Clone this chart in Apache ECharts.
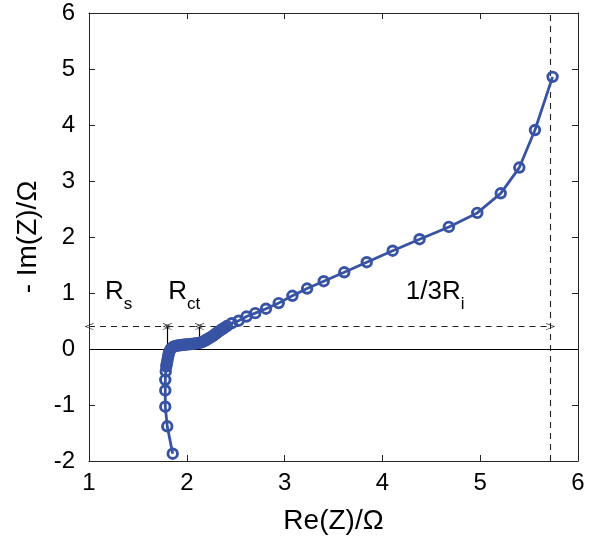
<!DOCTYPE html>
<html><head><meta charset="utf-8">
<script src="https://cdn.jsdelivr.net/npm/echarts@6/dist/echarts.min.js"></script>
<style>html,body{margin:0;padding:0;background:#fff}#c{width:589px;height:541px}</style>
</head><body><div id="c"></div>
<script>
// Impedance data (Re(Z), -Im(Z)) in Ohm
const reZ = [1.856,1.80,1.78,1.78,1.78,1.785,1.79,1.795,1.80,1.805,1.81,1.815,1.82,1.83,1.84,1.855,1.87,1.89,1.91,1.93,1.95,1.97,1.99,2.01,2.03,2.05,2.07,2.09,2.11,2.13,2.145,2.16,2.175,2.19,2.20,2.215,2.23,2.245,2.26,2.275,2.29,2.305,2.32,2.34,2.36,2.38,2.41,2.46,2.53,2.61,2.70,2.81,2.94,3.08,3.23,3.40,3.61,3.84,4.105,4.38,4.68,4.97,5.21,5.40,5.56,5.74];
const negImZ = [-1.87,-1.38,-1.03,-0.74,-0.55,-0.40,-0.31,-0.27,-0.22,-0.17,-0.13,-0.09,-0.05,-0.02,0.01,0.03,0.045,0.055,0.062,0.068,0.072,0.076,0.08,0.083,0.086,0.09,0.094,0.10,0.105,0.11,0.118,0.128,0.14,0.152,0.165,0.18,0.195,0.21,0.225,0.245,0.265,0.285,0.305,0.33,0.35,0.375,0.41,0.46,0.505,0.58,0.64,0.72,0.82,0.95,1.08,1.21,1.37,1.55,1.755,1.96,2.18,2.43,2.78,3.24,3.91,4.86];
const xTicks = [1,2,3,4,5,6];
const yTicks = [-2,-1,0,1,2,3,4,5,6];
// Annotation values
const arrowY = 0.4;
const Rs_end = 1.8;
const Rct_end = 2.13;
const Ri_end = 5.72;
const labelPos = [[1.164,0.80,'Rs'],[1.81,0.80,'Rct'],[4.24,0.80,'Ri']];

const FONT = 'Liberation Sans';
const AX = '#262626';
const BLUE = '#3853a4';
const chev = 'path://M0,10 L5,0 L10,10 L9,10 L5,2 L1,10 Z';

const chart = echarts.init(document.getElementById('c'));
const pts = reZ.map((x,i)=>[x,negImZ[i]]);
const axCommon = {
  type:'value', splitLine:{show:false},
  axisLine:{show:true,onZero:false,lineStyle:{color:AX,width:1}},
  axisTick:{show:true,inside:true,length:6,lineStyle:{color:AX}},
};
const seg = (a,b,y)=>[{coord:[a,y]},{coord:[b,y]}];
const rich = {
  a:{fontFamily:FONT,fontSize:26,color:'#000',opacity:1,lineHeight:26,verticalAlign:'top'},
  b:{fontFamily:FONT,fontSize:17,color:'#000',opacity:1,lineHeight:50,verticalAlign:'middle'}
};
const labelText = {Rs:'{a|R}{b|s}', Rct:'{a|R}{b|ct}', Ri:'{a|1/3R}{b|i}'};
chart.setOption({
  animation:false,
  grid:{left:89,top:13,right:11,bottom:80},
  xAxis:[
    Object.assign({},axCommon,{min:1,max:6,interval:1,position:'bottom',
      name:'Re(Z)/Ω',nameLocation:'middle',nameGap:46,
      nameTextStyle:{fontFamily:FONT,fontSize:28,color:'#000'},
      axisLabel:{fontFamily:FONT,fontSize:24,color:'#000',margin:10,formatter:v=>xTicks.includes(v)?String(v):''}}),
    Object.assign({},axCommon,{min:1,max:6,interval:1,position:'top',axisLabel:{show:false}})
  ],
  yAxis:[
    Object.assign({},axCommon,{min:-2,max:6,interval:1,position:'left',
      name:'- Im(Z)/Ω',nameLocation:'middle',nameGap:45,
      nameTextStyle:{fontFamily:FONT,fontSize:28,color:'#000'},
      axisLabel:{fontFamily:FONT,fontSize:24,color:'#000',margin:14,formatter:v=>yTicks.includes(v)?String(v):''}}),
    Object.assign({},axCommon,{min:-2,max:6,interval:1,position:'right',axisLabel:{show:false}})
  ],
  series:[
    {type:'line',data:[],xAxisIndex:0,yAxisIndex:0,silent:true,
     markLine:{silent:true,animation:false,symbol:['none','none'],label:{show:false},
       data:[
         [{coord:[1,0],lineStyle:{type:'solid',color:'#000',width:1.2}},{coord:[6,0]}],
         [{coord:[Rs_end,0],lineStyle:{type:'solid',color:'#000',width:1.2}},{coord:[Rs_end,arrowY]}],
         [{coord:[Rct_end,0],lineStyle:{type:'solid',color:'#000',width:1.2}},{coord:[Rct_end,arrowY]}],
         [{coord:[Ri_end,-2],lineStyle:{type:[6,5],color:'#222',width:1.1}},{coord:[Ri_end,6]}]
       ]}},
    {type:'line',data:[],silent:true,
     markLine:{silent:true,animation:false,symbol:[chev,chev],symbolSize:[7,9],label:{show:false},
       lineStyle:{type:[6,5],color:'#222',width:1.1},
       data:[seg(1,Rs_end,arrowY),seg(Rs_end,Rct_end,arrowY),seg(Rct_end,Ri_end,arrowY)]}},
    {type:'line',data:pts,symbol:'circle',symbolSize:9.5,showAllSymbol:true,
     lineStyle:{color:BLUE,width:2.8},itemStyle:{color:'rgba(0,0,0,0)',borderColor:BLUE,borderWidth:2.9},z:5},
    {type:'scatter',symbolSize:0,silent:true,z:6,
     itemStyle:{opacity:1},
     data:labelPos.map(p=>({value:[p[0],p[1]],name:p[2]})),
     label:{show:true,color:'#000',opacity:1,position:[0,0],align:'left',verticalAlign:'middle',
       formatter:p=>labelText[p.name],rich:rich}}
  ]
});
</script></body></html>
